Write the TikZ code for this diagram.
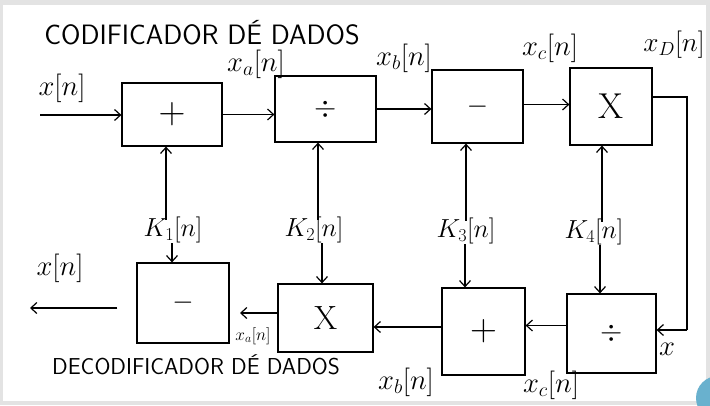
\documentclass[tikz,border=0pt]{standalone}
\usetikzlibrary{arrows.meta}
\newcommand\mysc[2]{\scalebox{#1}{#2}}
\begin{document}
\begin{tikzpicture}[x=1pt,y=-1pt,
  blk/.style={draw,line width=1.2pt,inner sep=0pt},
  sym/.style={font=\fontsize{24}{28}\selectfont},
  lbl/.style={font=\fontsize{24}{28}\selectfont,inner sep=0pt},
  slbl/.style={font=\fontsize{17}{20}\selectfont,inner sep=0pt},
  ttl/.style={font=\sffamily\fontsize{28}{32}\selectfont,inner sep=0pt},
  ttlb/.style={font=\sffamily\fontsize{23}{26}\selectfont,inner sep=0pt},
  con/.style={line width=1.2pt,-{Straight Barb[length=6pt,width=11pt,line width=1.2pt]}},
  ln/.style={line width=1.2pt}]
% background and screen frame
\fill[white] (0,0) rectangle (710,405);
\useasboundingbox (0,0) rectangle (710,405);
\fill[gray!22] (0,0) rectangle (710,5);
\fill[gray!22] (0,0) rectangle (3,405);
\fill[gray!22] (706,0) rectangle (710,405);
\fill[gray!22] (0,401) rectangle (710,405);
\begin{scope}
\clip (0,0) rectangle (710,405);
\fill[cyan!45!teal!70] (718,398) circle (22);
\end{scope}

% titles
\node[ttl] (t1) at (202,33) {CODIFICADOR D\'E DADOS};
\node[ttlb] (t2) at (196,365) {DECODIFICADOR D\'E DADOS};

% top row
\node[blk,minimum width=100pt,minimum height=63pt] (b1) at (172,114.5) {};
\node[sym] at (b1) {\mysc{1.5}{$+$}};
\node[blk,minimum width=101pt,minimum height=66pt] (b2) at (325.5,109) {};
\node[sym] at (b2) {\mysc{1.15}{$\div$}};
\node[blk,minimum width=91pt,minimum height=73pt] (b3) at (477.5,106.5) {};
\node[sym] at (b3) {\mysc{1.1}{$-$}};
\node[blk,minimum width=82pt,minimum height=77pt] (b4) at (611,106.5) {};
\node[sym] at (b4) {\mysc{1.5}{X}};

% bottom row
\node[blk,minimum width=89pt,minimum height=79pt] (d1) at (611.5,333.5) {};
\node[sym] at (d1) {\mysc{1.15}{$\div$}};
\node[blk,minimum width=83pt,minimum height=87pt] (d2) at (483.5,331.5) {};
\node[sym] at (d2) {\mysc{1.5}{$+$}};
\node[blk,minimum width=95pt,minimum height=68pt] (d3) at (325.5,318) {};
\node[sym] at (d3) {\mysc{1.4}{X}};
\node[blk,minimum width=92pt,minimum height=80pt] (d4) at (183,303) {};
\node[sym] at (d4) {\mysc{1.1}{$-$}};

% key labels
\node[lbl] (k1) at (173,230) {\mysc{1.05}{$K_1[n]$}};
\node[lbl] (k2) at (314,230) {\mysc{1.05}{$K_2[n]$}};
\node[lbl] (k3) at (466,231) {\mysc{1.05}{$K_3[n]$}};
\node[lbl] (k4) at (594,232) {\mysc{1.05}{$K_4[n]$}};

% signal labels
\node[lbl] (lin) at (62,88) {\mysc{1.15}{$x[n]$}};
\node[lbl] (la) at (256,64) {\mysc{1.15}{$x_a[n]$}};
\node[lbl] (lb) at (404,58) {\mysc{1.15}{$x_b[n]$}};
\node[lbl] (lc) at (550,48) {\mysc{1.15}{$x_c[n]$}};
\node[lbl] (ld) at (674,45) {\mysc{1.1}{$x_D[n]$}};
\node[lbl] (lout) at (60,268) {\mysc{1.15}{$x[n]$}};
\node[slbl] (la2) at (253,336) {$x_a[n]$};
\node[lbl] (lb2) at (406,382) {\mysc{1.15}{$x_b[n]$}};
\node[lbl] (lc2) at (551,385) {\mysc{1.15}{$x_c[n]$}};
\node[lbl] (lx) at (667,349) {\mysc{1.15}{$x$}};

% coordinates
\coordinate (in) at (40,115);
\coordinate (xaend) at (240,313);
\coordinate (out) at (30,308);
\coordinate (r1) at (687,97);
\coordinate (r2) at (687,330);

% top connectors
\draw[con] (in) -- (in -| b1.west);
\draw[con] (b1.east) -- (b1.east -| b2.west);
\draw[con] (b2.east) -- (b2.east -| b3.west);
\draw[con] ([yshift=2pt]b3.east) -- ([yshift=2pt]b3.east -| b4.west);
% feedback to decoder
\draw[ln] (b4.east |- r1) -- (r1) -- (r2);
\draw[con] (r2) -- (r2 -| d1.east);
% bottom connectors
\draw[con] ([yshift=8pt]d1.west) -- ([yshift=8pt]d1.west -| d2.east);
\draw[con] ([yshift=4.5pt]d2.west) -- ([yshift=4.5pt]d2.west -| d3.east);
\draw[con] (d3.west |- xaend) -- (xaend);
\draw[con] ([xshift=-19pt,yshift=-5pt]d4.west) -- (out);

% key connectors (up to encoder, down to decoder)
\draw[con] ([xshift=-7pt,yshift=-3pt]k1.north) -- ([xshift=-7pt]k1.north |- b1.south);
\draw[con] ([xshift=-1pt]k1.south) -- ([xshift=-1pt]k1.south |- d4.north);
\draw[con] ([xshift=4pt,yshift=-3pt]k2.north) -- ([xshift=4pt]k2.north |- b2.south);
\draw[con] ([xshift=8pt]k2.south) -- ([xshift=8pt]k2.south |- d3.north);
\draw[con] ([yshift=-3pt]k3.north) -- (k3.north |- b3.south);
\draw[con] ([xshift=-1pt]k3.south) -- ([xshift=-1pt]k3.south |- d2.north);
\draw[con] ([xshift=8pt,yshift=-3pt]k4.north) -- ([xshift=8pt]k4.north |- b4.south);
\draw[con] ([xshift=6pt]k4.south) -- ([xshift=6pt]k4.south |- d1.north);
\end{tikzpicture}
\end{document}
